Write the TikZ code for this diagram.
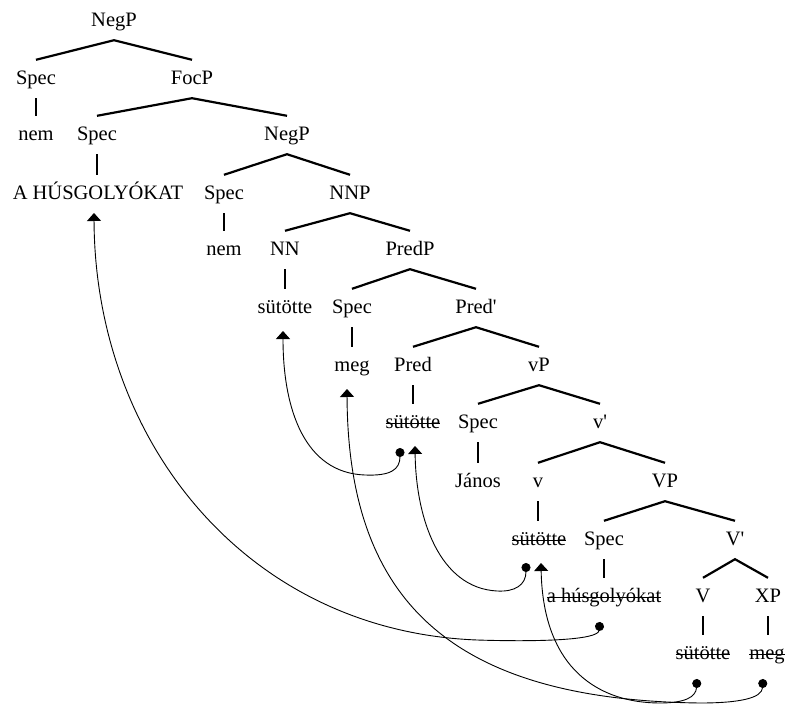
\documentclass[tikz,border=0pt]{standalone}
\usepackage{fontspec}
\setmainfont{Liberation Serif}
\usetikzlibrary{arrows.meta,calc}
\newcommand\strk[1]{\setbox0\hbox{#1}\rlap{\rule[0.2em]{\wd0}{1.3pt}}\box0}
\begin{document}
\begin{tikzpicture}[x=1pt,y=-1pt,
  tn/.style={anchor=base,inner xsep=0pt,inner ysep=10pt,text height=14pt,text depth=4pt,
    font=\fontsize{20.5}{24}\selectfont},
  branch/.style={line width=2.2pt},
  mv/.style={line width=0.9pt,{Circle[length=9pt]}-{Triangle[width=14pt,length=8pt]}}]
\useasboundingbox (0,0) rectangle (788,704);
% nodes
\node[tn] (negp1) at (114,26) {NegP};
\node[tn] (spec1) at (36,84) {Spec};
\node[tn] (focp) at (192,84) {FocP};
\node[tn] (nem1) at (36,140) {nem};
\node[tn] (spec2) at (97,140) {Spec};
\node[tn] (negp2) at (287,140) {NegP};
\node[tn] (ahus) at (98,199) {A HÚSGOLYÓKAT};
\node[tn] (spec3) at (224,199) {Spec};
\node[tn] (nnp) at (350,199) {NNP};
\node[tn] (nem2) at (224,255) {nem};
\node[tn] (nn) at (285,255) {NN};
\node[tn] (predp) at (410,255) {PredP};
\node[tn] (sut1) at (285,313) {sütötte};
\node[tn] (spec4) at (352,313) {Spec};
\node[tn] (predbar) at (476,313) {Pred\textquotesingle};
\node[tn] (meg1) at (352,371) {meg};
\node[tn] (pred) at (413,371) {Pred};
\node[tn] (vp) at (539,371) {vP};
\node[tn] (sut2) at (413,428) {\strk{sütötte}};
\node[tn] (spec5) at (478,428) {Spec};
\node[tn] (vbar) at (600,428) {v\textquotesingle};
\node[tn] (janos) at (478,487) {János};
\node[tn] (vv) at (538,487) {v};
\node[tn] (VP) at (665,487) {VP};
\node[tn] (sut3) at (539,545) {\strk{sütötte}};
\node[tn] (spec6) at (604,545) {Spec};
\node[tn] (Vbar) at (735,545) {V\textquotesingle};
\node[tn] (ahus2) at (604,602) {\strk{a húsgolyókat}};
\node[tn] (Vn) at (703,602) {V};
\node[tn] (xp) at (768,602) {XP};
\node[tn] (sut4) at (703,659) {\strk{sütötte}};
\node[tn] (meg2) at (767,659) {\strk{meg}};
% branches
\draw[branch] (spec1.north) -- (negp1.south) -- (focp.north);
\draw[branch] (spec2.north) -- (focp.south) -- (negp2.north);
\draw[branch] (spec3.north) -- (negp2.south) -- (nnp.north);
\draw[branch] (nn.north) -- (nnp.south) -- (predp.north);
\draw[branch] (spec4.north) -- (predp.south) -- (predbar.north);
\draw[branch] (pred.north) -- (predbar.south) -- (vp.north);
\draw[branch] (spec5.north) -- (vp.south) -- (vbar.north);
\draw[branch] (vv.north) -- (vbar.south) -- (VP.north);
\draw[branch] (spec6.north) -- (VP.south) -- (Vbar.north);
\draw[branch] (Vn.north) -- (Vbar.south) -- (xp.north);
% unary lines
\draw[branch] (spec1.south) -- (spec1.south |- nem1.north);
\draw[branch] (spec2.south) -- (spec2.south |- ahus.north);
\draw[branch] (spec3.south) -- (spec3.south |- nem2.north);
\draw[branch] (nn.south) -- (nn.south |- sut1.north);
\draw[branch] (spec4.south) -- (spec4.south |- meg1.north);
\draw[branch] (pred.south) -- (pred.south |- sut2.north);
\draw[branch] (spec5.south) -- (spec5.south |- janos.north);
\draw[branch] (vv.south) -- (vv.south |- sut3.north);
\draw[branch] (spec6.south) -- (spec6.south |- ahus2.north);
\draw[branch] (Vn.south) -- (Vn.south |- sut4.north);
\draw[branch] (xp.south) -- (xp.south |- meg2.north);
% movement end points
\coordinate (dPred) at ($(sut2.base)+(-13,20)$);
\coordinate (tNN) at ($(sut1.base)+(-2,18)$);
\coordinate (dv) at ($(sut3.base)+(-13,18)$);
\coordinate (tPred) at ($(sut2.base)+(2,18)$);
\coordinate (dAh) at ($(ahus2.base)+(-4,20)$);
\coordinate (tAh) at ($(ahus.base)+(-4,14)$);
\coordinate (dV) at ($(sut4.base)+(-6,20)$);
\coordinate (tv) at ($(sut3.base)+(2,18)$);
\coordinate (dXP) at ($(meg2.base)+(-4,20)$);
\coordinate (tMeg) at ($(meg1.base)+(-5,18)$);
% movement arrows
\draw[mv] (dPred) .. controls (400,470) and (390,476) .. (365,475)
  .. controls (305,473) and (283,410) .. (tNN);
\draw[mv] (dv) .. controls (526,585) and (515,592) .. (497,591)
  .. controls (440,588) and (416,520) .. (tPred);
\draw[mv] (dAh) .. controls (598,640) and (540,642) .. (477,640)
  .. controls (245,631) and (95,440) .. (tAh);
\draw[mv] (dV) .. controls (696,697) and (685,703) .. (660,703)
  .. controls (600,703) and (543,670) .. (tv);
\draw[mv] (dXP) .. controls (762,698) and (740,703) .. (700,703)
  .. controls (450,700) and (348,600) .. (tMeg);
\end{tikzpicture}
\end{document}
